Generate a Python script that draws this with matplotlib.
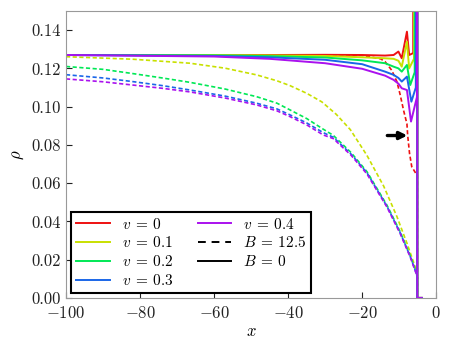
import matplotlib
matplotlib.use("Agg")
import matplotlib.pyplot as plt
from matplotlib.lines import Line2D

plt.rcParams['font.family'] = 'serif'
plt.rcParams['font.serif'] = ['cmr10']
plt.rcParams['mathtext.fontset'] = 'cm'
plt.rcParams['axes.formatter.use_mathtext'] = True

# --- data ---
v_labels = ['0', '0.1', '0.2', '0.3', '0.4']
colors = ['#ee1111', '#c8e000', '#00e855', '#1a66e8', '#aa11ee']

# solid curves (B = 0)
x_solid = [
    [-100, -60, -45, -30, -20, -13.8, -11.5, -10.2, -9.3, -7.9, -7.3, -6.2, -6.2, -5.1, -5.1, -3.9],
    [-100, -60, -45, -30, -20, -13.8, -11.5, -10.2, -9.3, -7.9, -7.3, -6.0, -6.0, -5.1, -5.1, -3.9],
    [-100, -60, -45, -30, -20, -13.8, -11.5, -10.2, -9.3, -7.9, -7.0, -5.8, -5.8, -5.1, -5.1, -3.9],
    [-100, -60, -45, -30, -20, -13.8, -11.5, -10.2, -9.3, -7.9, -6.7, -5.5, -5.5, -5.1, -5.1, -3.9],
    [-100, -60, -45, -30, -20, -13.8, -11.5, -10.2, -9.3, -7.9, -6.8, -5.2, -5.2, -5.1, -5.1, -3.9],
]
rho_solid = [
    [0.127, 0.127, 0.127, 0.1271, 0.1270, 0.1267, 0.1270, 0.1288, 0.1253, 0.1392, 0.1270, 0.128, 0.3, 0.3, 0.0, 0.0],
    [0.127, 0.127, 0.1268, 0.1265, 0.1258, 0.1253, 0.1250, 0.1240, 0.1209, 0.1340, 0.1200, 0.125, 0.3, 0.3, 0.0, 0.0],
    [0.127, 0.1268, 0.1264, 0.1257, 0.1242, 0.1227, 0.1209, 0.1200, 0.1183, 0.1218, 0.1113, 0.118, 0.3, 0.3, 0.0, 0.0],
    [0.127, 0.1265, 0.1258, 0.1245, 0.1222, 0.1183, 0.1166, 0.1150, 0.1131, 0.1157, 0.1026, 0.110, 0.3, 0.3, 0.0, 0.0],
    [0.127, 0.1262, 0.1250, 0.1227, 0.1198, 0.1162, 0.1140, 0.1120, 0.1096, 0.1087, 0.0922, 0.105, 0.3, 0.3, 0.0, 0.0],
]

# dashed curves (B = 12.5)
x_dash = [
    [-100, -60, -30, -20, -15, -13.8, -12, -10.6, -9.7, -8.8, -7.9, -7.7, -7.2, -6.6, -5.4, -5.1, -5.1, -3.9],
    [-100, -82, -66.5, -57, -48.5, -43, -39.5, -35, -30.9, -27, -23.2, -18.7, -14.2, -10.6, -7.9, -5.7, -5.1, -5.1, -3.9],
    [-100, -90, -82, -74, -66.5, -57, -48.5, -43, -39.5, -35, -30.5, -27.8, -23, -18.7, -13.3, -9.7, -7.0, -5.4, -5.1, -5.1, -3.9],
    [-100, -90, -82, -74, -66.5, -57, -48.5, -43, -39.5, -35, -30.5, -27.8, -23, -18.7, -13.3, -9.7, -7.0, -5.4, -5.1, -5.1, -3.9],
    [-100, -90, -82, -74, -66.5, -57, -48.5, -43, -39.5, -35, -30.5, -27.8, -23, -18.7, -13.3, -9.7, -7.0, -5.4, -5.1, -5.1, -3.9],
]
rho_dash = [
    [0.127, 0.127, 0.127, 0.1268, 0.1250, 0.1235, 0.1190, 0.1130, 0.1060, 0.0980, 0.0910, 0.0850, 0.0756, 0.0686, 0.0648, 0.0645, 0.0, 0.0],
    [0.1261, 0.1248, 0.1227, 0.1201, 0.1166, 0.1135, 0.1110, 0.1070, 0.1025, 0.0960, 0.0880, 0.0745, 0.0585, 0.0425, 0.0286, 0.0164, 0.0125, 0.0, 0.0],
    [0.1210, 0.1195, 0.1173, 0.1150, 0.1127, 0.1092, 0.1052, 0.1018, 0.0983, 0.0938, 0.0882, 0.0850, 0.0760, 0.0660, 0.0485, 0.0345, 0.0220, 0.0135, 0.0110, 0.0, 0.0],
    [0.1167, 0.1150, 0.1131, 0.1110, 0.1087, 0.1055, 0.1018, 0.0988, 0.0957, 0.0915, 0.0864, 0.0840, 0.0752, 0.0654, 0.0479, 0.0340, 0.0216, 0.0130, 0.0108, 0.0, 0.0],
    [0.1145, 0.1130, 0.1113, 0.1096, 0.1077, 0.1045, 0.1009, 0.0978, 0.0948, 0.0905, 0.0852, 0.0833, 0.0746, 0.0648, 0.0475, 0.0335, 0.0213, 0.0127, 0.0105, 0.0, 0.0],
]

arrow_x = (-13.2, -7.8)
arrow_rho = 0.0849

fig = plt.figure(figsize=(4.52, 3.44), dpi=100)
ax = fig.add_axes([0.146, 0.134, 0.819, 0.834])

for i in range(5):
    ax.plot(x_dash[i], rho_dash[i], color=colors[i], lw=1.2, ls=(0, (2.5, 1.5)))
for i in range(5):
    ax.plot(x_solid[i], rho_solid[i], color=colors[i], lw=1.4)

ax.annotate('', xy=(arrow_x[1], arrow_rho), xytext=(arrow_x[0], arrow_rho),
            arrowprops=dict(arrowstyle='-|>', lw=2.4, color='black',
                            mutation_scale=11, shrinkA=0, shrinkB=0))

ax.set_xlim(-100, 0)
ax.set_ylim(0, 0.15)
ax.set_xticks([-100, -80, -60, -40, -20, 0])
ax.set_yticks([0, 0.02, 0.04, 0.06, 0.08, 0.10, 0.12, 0.14])
ax.set_yticklabels(['0.00', '0.02', '0.04', '0.06', '0.08', '0.10', '0.12', '0.14'])
ax.tick_params(direction='in', length=4, labelsize=12, colors='#222222')
ax.tick_params(axis='x', pad=5)
for s in ax.spines.values():
    s.set_color('#999999')
ax.set_xlabel(r'$x$', fontsize=12, labelpad=2)
ax.set_ylabel(r'$\rho$', fontsize=12)

handles = [Line2D([], [], color=colors[i], lw=1.4) for i in range(5)]
handles += [Line2D([], [], color='black', lw=1.4, ls=(0, (4, 3))),
            Line2D([], [], color='black', lw=1.4)]
labels = [r'$v\:=\:%s$' % v for v in v_labels] + [r'$B\:=\:12.5$', r'$B\:=\:0$']
leg = ax.legend(handles, labels,
                loc='lower left', ncol=2, fontsize=11, fancybox=False,
                edgecolor='black', framealpha=1, borderaxespad=0.35,
                handlelength=2.2, handletextpad=0.8, columnspacing=1.6,
                labelspacing=0.25, borderpad=0.3)
leg.get_frame().set_linewidth(1.5)

fig.savefig('out.png', dpi=100)
